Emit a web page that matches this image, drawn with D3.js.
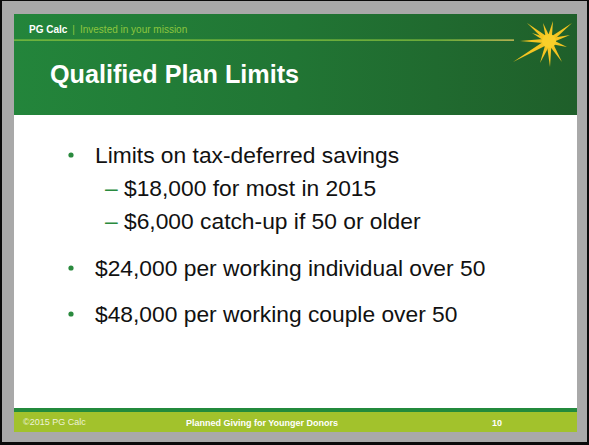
<!DOCTYPE html>
<html><head><meta charset="utf-8">
<script src="https://cdn.jsdelivr.net/npm/d3@7"></script>
<style>html,body{margin:0;padding:0;background:#000;}svg{display:block;}</style>
</head><body>
<script>
const title = "Qualified Plan Limits";
const brand = "PG Calc";
const tagline = "Invested in your mission";
const bullets = [
  {level: 0, text: "Limits on tax-deferred savings"},
  {level: 1, text: "$18,000 for most in 2015"},
  {level: 1, text: "$6,000 catch-up if 50 or older"},
  {level: 0, text: "$24,000 per working individual over 50"},
  {level: 0, text: "$48,000 per working couple over 50"}
];
const footerLeft = "©2015 PG Calc";
const footerMid = "Planned Giving for Younger Donors";
const footerRight = "10";
// starburst rays: [dx, dy] relative to centre
const rays = [[-22,-18],[-6,-18],[4,-20],[23,-18],[21,-6],[18,6],[13,21],[1,26],[-9,22],[-36,21],[-29,0],[-17,-8]];

const W = 589, H = 445;
const svg = d3.select("body").append("svg").attr("width", W).attr("height", H);
const font = "Liberation Sans, Arial, Helvetica, sans-serif";

// frame
svg.append("rect").attr("width", W).attr("height", H).attr("fill", "#0a0a0a");
svg.append("rect").attr("x", 2).attr("y", 1).attr("width", 585).attr("height", 441).attr("fill", "#a9a9a9");
// slide
svg.append("rect").attr("x", 14).attr("y", 14).attr("width", 563).attr("height", 418).attr("fill", "#ffffff");

// header gradient
const defs = svg.append("defs");
const g = defs.append("linearGradient").attr("id", "hdr").attr("x1", "0").attr("x2", "1").attr("y1", "0").attr("y2", "0");
g.append("stop").attr("offset", "0").attr("stop-color", "#23853b");
g.append("stop").attr("offset", "0.5").attr("stop-color", "#217534");
g.append("stop").attr("offset", "1").attr("stop-color", "#1f5f2a");
const lg = defs.append("linearGradient").attr("id", "ln").attr("x1", "0").attr("x2", "1");
lg.append("stop").attr("offset", "0").attr("stop-color", "#8cc63f");
lg.append("stop").attr("offset", "0.85").attr("stop-color", "#8cc63f");
lg.append("stop").attr("offset", "1").attr("stop-color", "#f0d060");
const glow = defs.append("filter").attr("id", "glow").attr("x", "-50%").attr("y", "-50%").attr("width", "200%").attr("height", "200%");
glow.append("feGaussianBlur").attr("stdDeviation", 0.5);

svg.append("rect").attr("x", 14).attr("y", 14).attr("width", 563).attr("height", 101).attr("fill", "url(#hdr)");
svg.append("rect").attr("x", 14).attr("y", 39.5).attr("width", 500).attr("height", 1.2).attr("fill", "url(#ln)");

// brand line
const bt = svg.append("text").attr("x", 29).attr("y", 33).attr("font-family", font).attr("font-size", 10);
bt.append("tspan").attr("font-weight", "bold").attr("fill", "#ffffff").text(brand);
bt.append("tspan").attr("fill", "#8cc63f").attr("dx", 5).text("|");
bt.append("tspan").attr("fill", "#8cc63f").attr("dx", 5).text(tagline);

// starburst
const cx = 549, cy = 41;
const sb = svg.append("g").attr("transform", `translate(${cx},${cy})`).attr("filter", "url(#glow)");
sb.selectAll("path").data(rays).join("path")
  .attr("d", d => {
    const len = Math.hypot(d[0], d[1]);
    const nx = -d[1] / len * 2.6, ny = d[0] / len * 2.6;
    return `M${nx},${ny}L${d[0]},${d[1]}L${-nx},${-ny}Z`;
  })
  .attr("fill", "#f4c520");
sb.append("circle").attr("r", 7).attr("fill", "#f8cf2a");

// title
svg.append("text").attr("x", 50).attr("y", 83).attr("font-family", font).attr("font-size", 25.2)
  .attr("font-weight", "bold").attr("fill", "#ffffff").text(title);

// bullets
const ys = [163, 196, 229, 276, 322];
const body = svg.append("g");
bullets.forEach((b, i) => {
  if (b.level === 0) {
    body.append("circle").attr("cx", 71).attr("cy", ys[i] - 8).attr("r", 2.6).attr("fill", "#2a8a3e");
    body.append("text").attr("x", 95).attr("y", ys[i]).attr("font-family", font).attr("font-size", 22.8)
      .attr("fill", "#111111").text(b.text);
  } else {
    body.append("text").attr("x", 105).attr("y", ys[i]).attr("font-family", font).attr("font-size", 22.8)
      .attr("fill", "#2a8a3e").text("–");
    body.append("text").attr("x", 124).attr("y", ys[i]).attr("font-family", font).attr("font-size", 22.8)
      .attr("fill", "#111111").text(b.text);
  }
});

// footer
svg.append("rect").attr("x", 14).attr("y", 408).attr("width", 563).attr("height", 4.5).attr("fill", "#238a3c");
svg.append("rect").attr("x", 14).attr("y", 412).attr("width", 563).attr("height", 20).attr("fill", "#a2c22c");
svg.append("text").attr("x", 23).attr("y", 425).attr("font-family", font).attr("font-size", 9)
  .attr("fill", "#eef3d8").text(footerLeft);
svg.append("text").attr("x", 262).attr("y", 426).attr("text-anchor", "middle").attr("font-family", font).attr("font-size", 9)
  .attr("font-weight", "bold").attr("fill", "#ffffff").text(footerMid);
svg.append("text").attr("x", 497).attr("y", 426).attr("text-anchor", "middle").attr("font-family", font).attr("font-size", 9)
  .attr("font-weight", "bold").attr("fill", "#ffffff").text(footerRight);
</script>
</body></html>
